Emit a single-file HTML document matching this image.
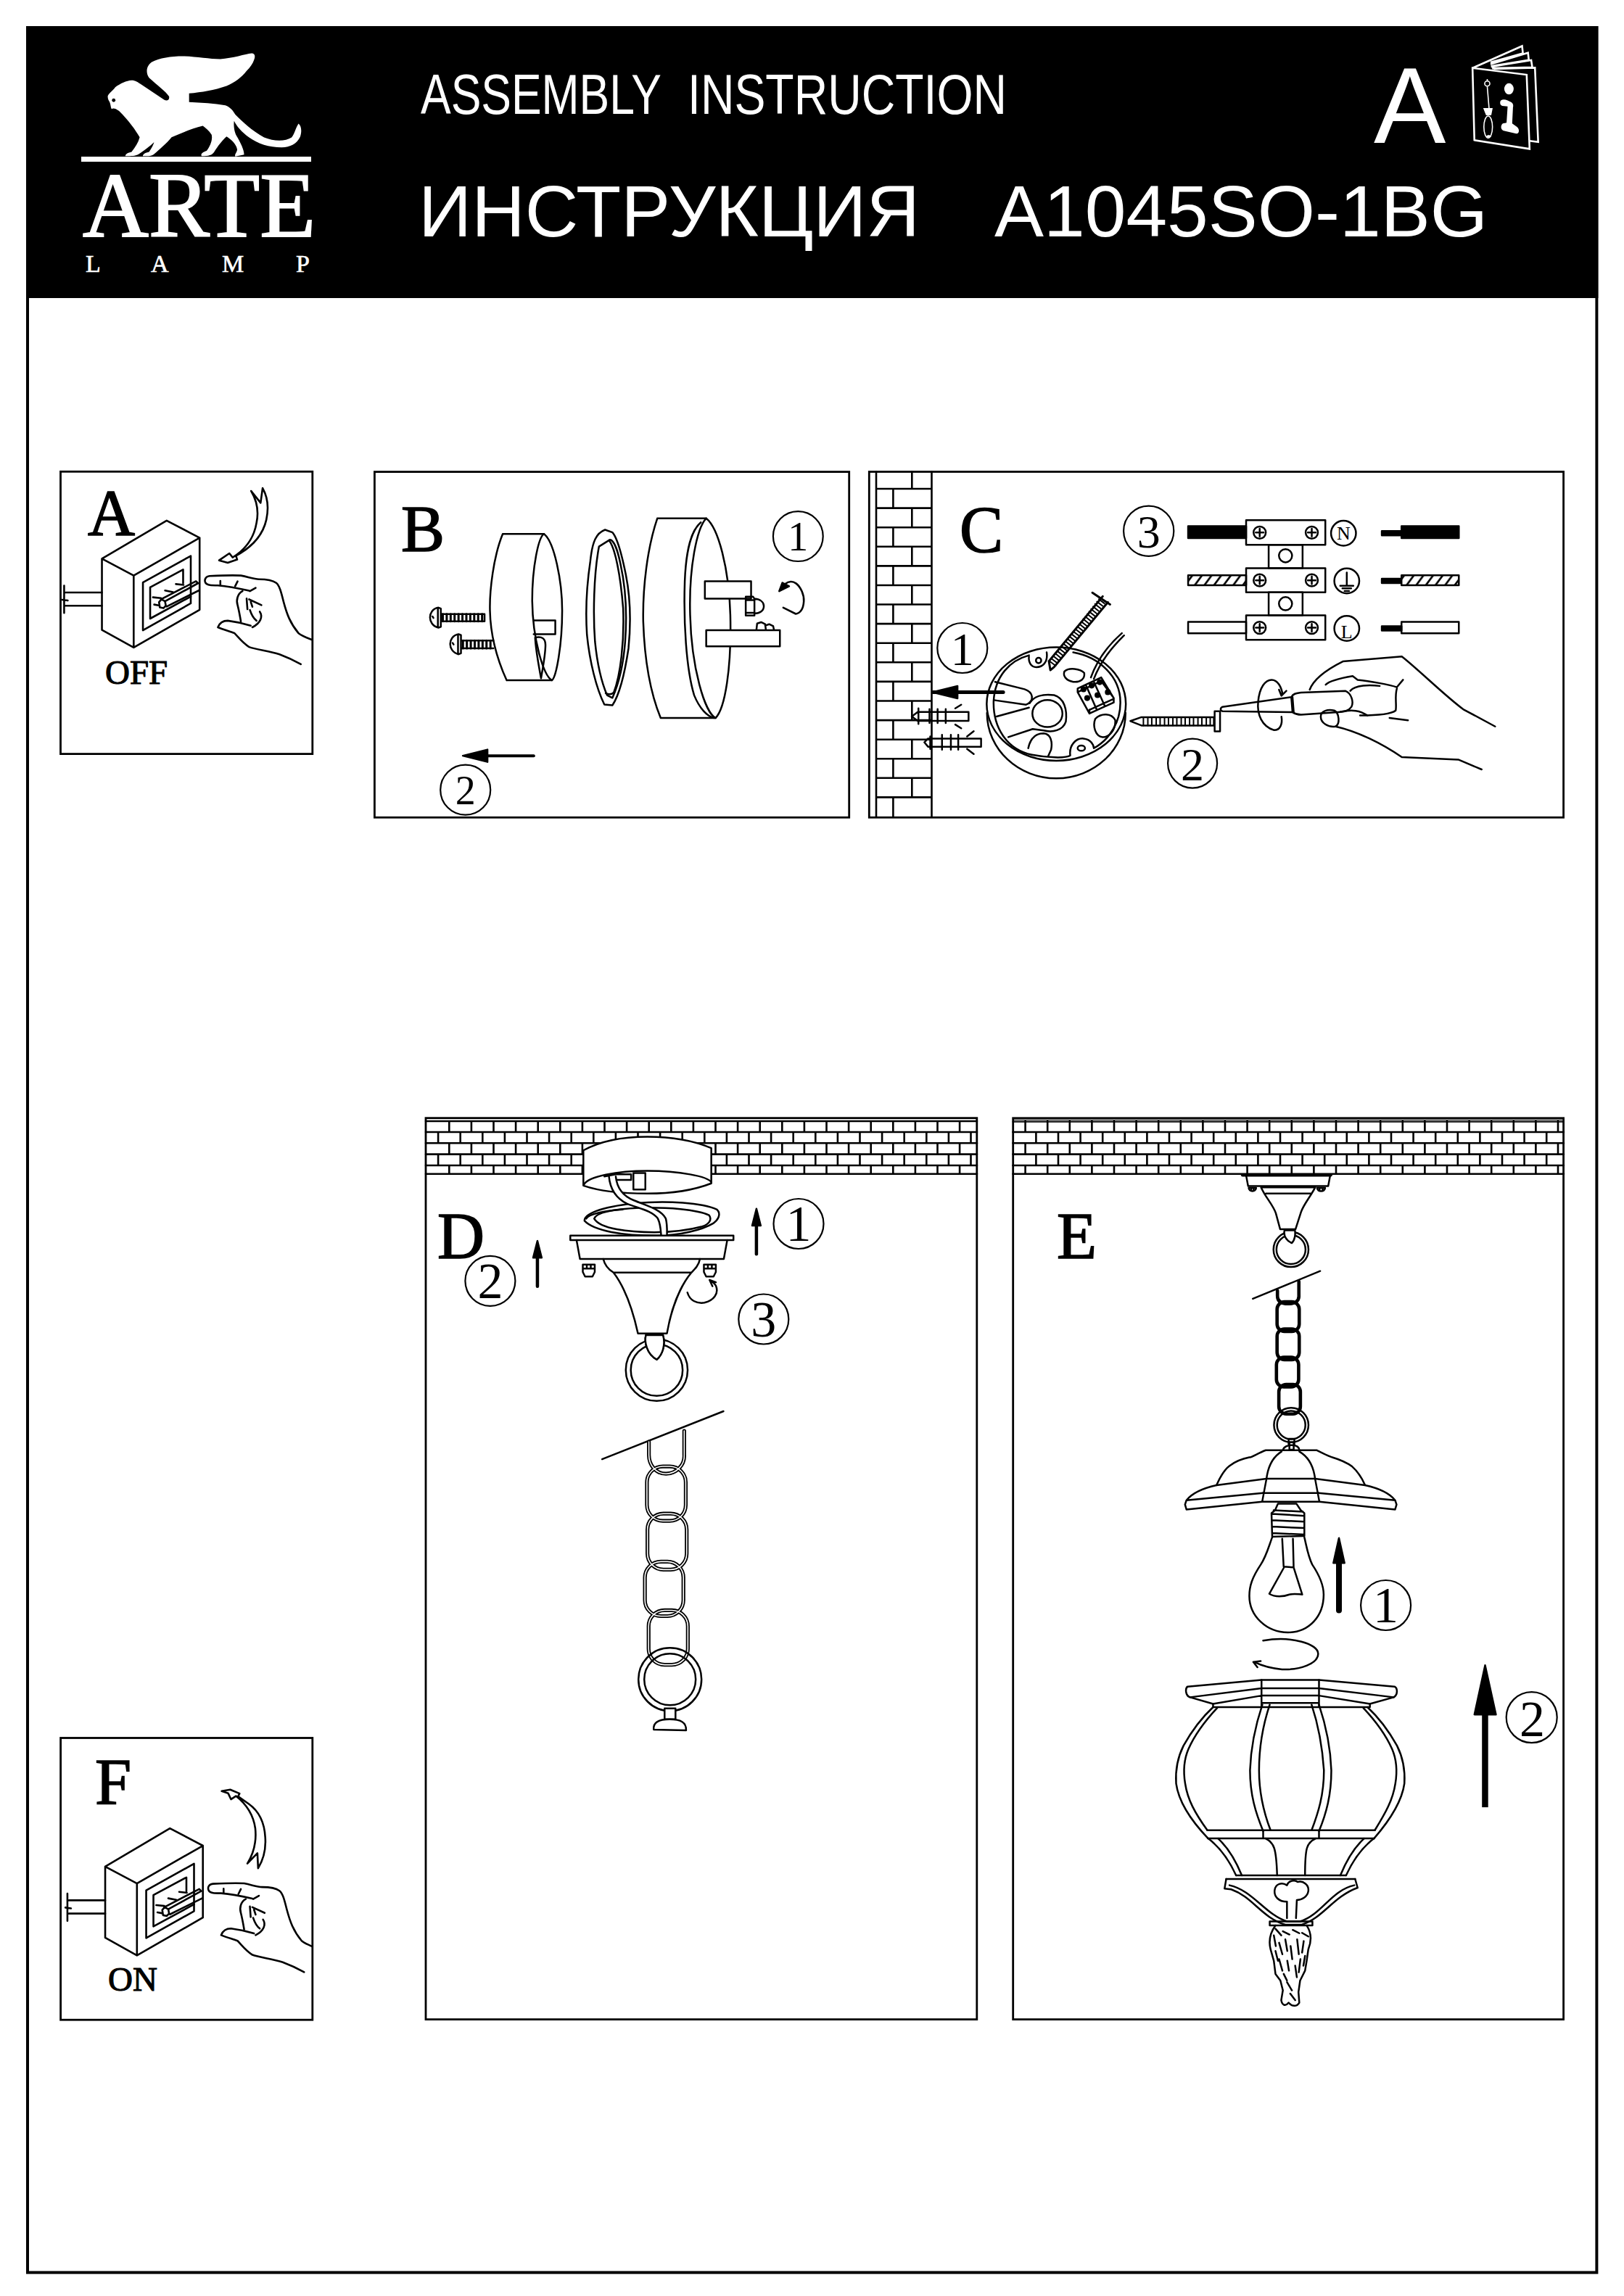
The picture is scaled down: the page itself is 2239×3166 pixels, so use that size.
<!DOCTYPE html>
<html><head><meta charset="utf-8">
<style>
html,body{margin:0;padding:0;background:#fff;}
body{width:2239px;height:3166px;overflow:hidden;position:relative;}
svg{position:absolute;left:0;top:0;}
.ns path,.ns line,.ns rect,.ns ellipse,.ns circle,.ns polyline,.ns polygon{vector-effect:non-scaling-stroke;}
.s{font-family:"Liberation Serif",serif;}
.a{font-family:"Liberation Sans",sans-serif;}
</style></head>
<body>
<svg width="2239" height="3166" viewBox="0 0 2239 3166">
<defs>
<clipPath id="clipF"><rect x="84" y="2397" width="346" height="387"/></clipPath>
<pattern id="hatch" width="44" height="46" patternUnits="userSpaceOnUse" patternTransform="translate(325,342)">
<rect width="44" height="46" fill="#fff"/><path d="M-14,46 L20,0 M30,46 L64,0" stroke="#000" stroke-width="9"/>
</pattern>
<pattern id="brickC" x="1208" y="674" width="77" height="53.18" patternUnits="userSpaceOnUse">
</pattern>
</defs>
<!-- page frame -->
<rect x="38" y="38" width="2163.4" height="3095.6" fill="none" stroke="#000" stroke-width="4"/>
<!-- header -->
<rect x="36" y="36" width="2167.4" height="375" fill="#000"/>

<g transform="translate(140,65) scale(0.17241)" fill="#fff">
 <path d="M50,390 C60,365 95,345 110,320 C150,290 200,268 240,265 C270,265 290,280 320,300 L500,420 C525,435 545,420 540,395 C520,360 440,300 380,245 C350,200 360,150 400,120 C460,85 560,72 650,72 C760,75 860,95 950,95 C1050,90 1150,55 1200,50 C1225,50 1232,70 1220,100 C1210,130 1190,160 1160,190 C1120,240 1070,280 1000,310 C900,345 800,360 700,370 L700,440 C800,445 900,450 990,465 C1030,480 1050,505 1070,540 C1120,590 1200,668 1300,722 C1380,755 1470,755 1520,722 C1545,692 1550,650 1575,612 C1600,628 1602,680 1588,718 C1562,772 1510,802 1440,802 C1340,802 1250,772 1180,722 C1120,678 1080,632 1060,590 C1055,620 1060,680 1080,710 C1110,760 1140,820 1140,860 L1070,875 C1060,860 1080,845 1085,820 C1080,780 1040,740 1000,715 C970,740 930,790 900,840 C880,865 860,872 800,872 C790,855 810,840 840,830 C870,790 890,740 880,700 C860,670 830,645 810,630 C720,650 640,690 560,720 C520,770 460,820 420,855 C405,870 380,872 330,872 C330,855 350,845 380,838 C400,810 415,780 420,760 C390,790 340,830 290,860 C270,870 240,872 190,872 C190,855 210,845 240,838 C270,800 295,760 305,720 C270,660 220,590 140,510 C110,490 95,485 80,495 C72,480 75,465 65,440 C55,425 48,405 50,390 Z"/>
 <circle cx="97" cy="425" r="14" fill="#000"/>
</g>
<g transform="translate(2015,55) scale(0.073893)" fill="none" stroke="#fff" stroke-width="2.6" stroke-linejoin="miter" class="ns">
 <path d="M205,525 L1215,650 L1270,2035 L240,1870 Z"/>
 <path d="M205,525 L1130,115 L1145,250 L540,420 M540,455 L1240,240 L1255,375 L550,490 M550,500 L1300,380 L1320,510 L570,530 M600,540 L1370,520 L1430,1905 L1270,1885"/>
 <path d="M430,1290 L560,1290 L540,1390 L470,1390 Z" fill="#fff"/>
 <path d="M480,870 L515,1290 M480,730 L480,765" stroke-width="1.6"/>
 <circle cx="480" cy="815" r="48" stroke-width="1.6"/>
 <ellipse cx="497" cy="1625" rx="80" ry="205" stroke-width="1.6"/>
 <path d="M460,1800 C480,1770 530,1770 555,1800 C540,1830 480,1830 460,1800 Z" fill="#fff" stroke="none"/>
</g>
<g transform="translate(2015,55) scale(0.073893)" fill="#fff">
 <ellipse cx="885" cy="915" rx="88" ry="105"/>
 <path d="M720,1170 C720,1110 790,1100 860,1130 L930,1165 C965,1190 970,1230 960,1260 L945,1560 L1030,1620 C1090,1660 1080,1760 1020,1750 L800,1700 C730,1690 720,1600 770,1560 L840,1545 L860,1240 L760,1230 C730,1220 720,1200 720,1170 Z"/>
</g>

<rect x="112" y="216" width="317" height="7" fill="#fff"/>
<text class="s" x="114" y="326" font-size="128" fill="#fff" stroke="#fff" stroke-width="2" textLength="321" lengthAdjust="spacingAndGlyphs">ARTE</text>
<text class="s" x="118" y="375" font-size="34" fill="#fff" stroke="#fff" stroke-width="0.6">L</text>
<text class="s" x="208" y="375" font-size="34" fill="#fff" stroke="#fff" stroke-width="0.6">A</text>
<text class="s" x="306" y="375" font-size="34" fill="#fff" stroke="#fff" stroke-width="0.6">M</text>
<text class="s" x="408" y="375" font-size="34" fill="#fff" stroke="#fff" stroke-width="0.6">P</text>
<text class="a" x="580" y="157" font-size="78" fill="#fff" textLength="332" lengthAdjust="spacingAndGlyphs">ASSEMBLY</text>
<text class="a" x="948" y="157" font-size="78" fill="#fff" textLength="440" lengthAdjust="spacingAndGlyphs">INSTRUCTION</text>
<text class="a" x="577" y="326" font-size="100" fill="#fff" textLength="691" lengthAdjust="spacingAndGlyphs">ИНСТРУКЦИЯ</text>
<text class="a" x="1371" y="326" font-size="100" fill="#fff" textLength="680" lengthAdjust="spacingAndGlyphs">A1045SO-1BG</text>
<text class="a" x="1894" y="197" font-size="149" fill="#fff">A</text>

<!-- panels -->
<g fill="none" stroke="#000" stroke-width="2.8">
<rect x="83.5" y="650.3" width="347.3" height="389.3"/>
<rect x="516.4" y="650.6" width="654.3" height="476.6"/>
<rect x="1198.3" y="650.5" width="957.3" height="476.7"/>
<rect x="587" y="1541.7" width="759.8" height="1242.9"/>
<rect x="1396.7" y="1541.8" width="758.9" height="1242.8"/>
<rect x="83.6" y="2396.5" width="347.2" height="388.7"/>
</g>
<g class="s" fill="#000" stroke="#000" stroke-width="1.6">
<text x="121" y="738" font-size="90">A</text>
<text x="553" y="760" font-size="90">B</text>
<text x="131" y="2488" font-size="90">F</text>
<text x="145" y="943" font-size="47" stroke-width="1.1">OFF</text>
<text x="149" y="2745" font-size="47" stroke-width="1.1">ON</text>
</g>
<g transform="translate(280,2450) scale(0.098522)" fill="none" stroke="#000" stroke-width="2.6" stroke-linejoin="round" class="ns">
<path d="M620,1215 L760,1070 L770,1280 C850,1150 880,1000 870,850 C860,650 780,480 640,380 L490,275 L510,235 L380,180 L260,200 L350,230 L390,315 L460,270 C600,380 700,520 730,720 C750,900 720,1050 620,1215 Z"/>
</g>

<g fill="none" stroke="#000" stroke-width="2.5" stroke-linejoin="round" stroke-linecap="round" class="ns">

<g id="swA" stroke-width="2.6">
 <g transform="translate(130,720) scale(0.11084)">
  <path d="M95,455 L900,-20 L1310,195 L490,665 Z M95,455 L95,1340 L490,1560 L490,665 M490,1560 L1310,1090 L1310,195"/>
  <path d="M605,750 L1200,420 L1200,1010 L605,1345 Z"/>
  <path d="M695,810 L1105,590 L1105,760 M1200,925 L695,1200 L695,810"/>
  <path d="M830,960 L1265,735 L1290,760 L880,985 M900,1050 L1300,850" />
  <path d="M805,995 L835,960 L880,985 L890,1040 L860,1070 L815,1060 Z"/>
  <path d="M1015,770 L1110,780 M880,850 L980,870 M730,935 L830,945 M745,1025 L800,1035" />
  <path d="M95,875 L-355,875 M95,1040 L-355,1040 M-375,790 L-375,1130 M-400,965 L-330,975"/>
 </g>
 <g transform="translate(280,660) scale(0.11324)">
  <path d="M560,1365 C450,1340 300,1310 180,1300 C100,1300 50,1300 30,1270 C10,1230 30,1190 80,1185 C200,1180 350,1175 460,1180 C560,1200 620,1225 680,1225 C780,1225 850,1240 890,1270 C930,1300 950,1380 980,1500 C1020,1650 1060,1760 1160,1880 C1210,1920 1270,1940 1320,1960"/>
  <path d="M210,1245 L210,1290 M420,1250 L390,1310 M640,1330 L570,1370"/>
  <path d="M480,1370 C420,1400 400,1480 420,1540 C440,1620 450,1680 460,1740 M530,1460 L540,1590 M560,1470 L710,1540 M580,1500 L600,1560 M570,1600 C590,1660 610,1700 650,1730 M690,1620 C730,1680 700,1760 600,1810"/>
  <path d="M580,1790 C480,1760 380,1740 300,1730 C230,1730 200,1760 180,1810 C250,1840 330,1860 380,1880 C430,1930 480,2000 560,2050 C640,2080 800,2100 930,2140 C1010,2170 1100,2210 1190,2260"/>
 </g>
</g>

<g transform="translate(280,660) scale(0.11324)" stroke-width="2.6">
 <path d="M585,150 L700,295 L725,115 C790,230 800,360 770,500 C730,680 620,820 400,940 L415,985 L300,1025 L195,995 L320,910 L360,960 C520,860 620,720 650,540 C680,400 650,260 585,150 Z"/>
</g>


<g transform="translate(580,720) scale(0.13546)">
 <path d="M835,120 L1255,120 M875,1610 L1335,1610 M835,120 C740,350 700,700 705,900 C710,1150 780,1400 875,1610"/>
 <path d="M1255,120 C1360,200 1440,600 1440,900 C1440,1250 1380,1580 1335,1610 C1250,1560 1140,1200 1135,800 C1135,450 1200,150 1255,120 Z"/>
 <path d="M1150,1000 L1370,1000 L1370,1140 L1150,1140"/>
 <path d="M1165,1175 C1230,1160 1270,1180 1270,1250 C1270,1350 1240,1500 1225,1590 C1200,1450 1170,1300 1165,1175"/>
 <path d="M180,870 C120,880 95,930 95,970 C95,1010 120,1060 180,1075 L205,1065 L205,880 Z M175,880 L175,1065 M205,935 L650,935 L650,1010 L205,1010 M120,960 L130,975"/>
 <path d="M225,935 L225,1010 M265,935 L265,1010 M305,935 L305,1010 M345,935 L345,1010 M385,935 L385,1010 M425,935 L425,1010 M465,935 L465,1010 M505,935 L505,1010 M545,935 L545,1010 M585,935 L585,1010 M625,935 L625,1010 " stroke-width="3"/>
 <path d="M385,1140 C325,1150 300,1200 300,1240 C300,1280 325,1330 385,1345 L410,1335 L410,1150 Z M380,1150 L380,1335 M410,1205 L740,1205 M410,1285 L740,1285 M325,1230 L335,1245"/>
 <path d="M430,1205 L430,1285 M470,1205 L470,1285 M510,1205 L510,1285 M550,1205 L550,1285 M590,1205 L590,1285 M630,1205 L630,1285 M670,1205 L670,1285 M710,1205 L710,1285 " stroke-width="3"/>
</g>
<g transform="translate(800,700) scale(0.18473)">
 <path d="M185,165 C120,190 90,250 75,400 C45,600 40,800 50,950 C70,1150 120,1350 180,1470 L240,1475 C290,1400 330,1250 360,1050 C380,850 370,650 340,500 C310,350 280,230 240,185 Z"/>
 <path d="M140,290 C100,500 95,800 110,1000 C130,1200 170,1330 200,1400 L240,1420 C280,1330 320,1200 335,1000 C350,800 340,600 300,420 C280,320 250,240 220,240 Z"/>
 <path d="M215,245 C260,300 300,500 320,750 C330,1000 300,1250 250,1380 C230,1400 210,1395 190,1385"/>
 <path d="M575,80 L940,80 M600,1570 L1010,1570 M575,80 C500,300 465,600 470,850 C480,1150 530,1400 600,1570"/>
 <path d="M940,80 C1030,150 1110,450 1120,800 C1130,1200 1080,1500 1010,1570 C930,1530 830,1200 820,800 C810,450 870,150 940,80"/>
 <path d="M900,110 C830,170 790,300 780,550 C770,850 790,1200 850,1400 C890,1500 950,1560 1000,1570"/>
 <path d="M930,550 L1275,550 L1275,680 L930,680 Z" fill="#fff"/>
 <path d="M940,915 L1490,915 L1490,1035 L940,1035 Z" fill="#fff"/>
 <path d="M1235,665 L1290,665 L1300,680 L1300,805 L1235,805 Z M1235,690 L1300,690 M1235,785 L1300,785 M1300,680 C1350,685 1370,710 1370,735 C1370,770 1340,790 1300,790"/>
 <path d="M1315,910 L1320,865 L1350,855 L1380,870 L1385,910 M1380,880 L1410,870 L1440,885 L1445,910"/>
</g>
<g transform="translate(1030,780) scale(0.061576)" stroke-width="2.6">
 <path d="M810,940 L1090,1080 C1200,1060 1260,950 1270,800 C1280,650 1200,480 1100,400 C1030,350 950,330 850,410"/>
 <path d="M720,570 L790,385 L940,460 Z" fill="#000"/>
</g>
<g transform="translate(500,630) scale(0.42488)">

 <path d="M555,970 L400,970" stroke-width="4"/>
 <path d="M325,970 L405,950 L405,990 Z" fill="#000"/>
</g>

<path d="M1208,674.0 L1284.5,674.0 M1208,700.6 L1284.5,700.6 M1208,727.2 L1284.5,727.2 M1208,753.8 L1284.5,753.8 M1208,780.4 L1284.5,780.4 M1208,807.0 L1284.5,807.0 M1208,833.5 L1284.5,833.5 M1208,860.1 L1284.5,860.1 M1208,886.7 L1284.5,886.7 M1208,913.3 L1284.5,913.3 M1208,939.9 L1284.5,939.9 M1208,966.5 L1284.5,966.5 M1208,993.1 L1284.5,993.1 M1208,1019.7 L1284.5,1019.7 M1208,1046.3 L1284.5,1046.3 M1208,1072.8 L1284.5,1072.8 M1208,1099.4 L1284.5,1099.4 M1257.3,650.5 L1257.3,674.0 M1231.4,674.0 L1231.4,700.6 M1257.3,700.6 L1257.3,727.2 M1231.4,727.2 L1231.4,753.8 M1257.3,753.8 L1257.3,780.4 M1231.4,780.4 L1231.4,807.0 M1257.3,807.0 L1257.3,833.5 M1231.4,833.5 L1231.4,860.1 M1257.3,860.1 L1257.3,886.7 M1231.4,886.7 L1231.4,913.3 M1257.3,913.3 L1257.3,939.9 M1231.4,939.9 L1231.4,966.5 M1257.3,966.5 L1257.3,993.1 M1231.4,993.1 L1231.4,1019.7 M1257.3,1019.7 L1257.3,1046.3 M1231.4,1046.3 L1231.4,1072.8 M1257.3,1072.8 L1257.3,1099.4 M1231.4,1099.4 L1231.4,1126.4 M1208,650.5 L1208,1126.4 M1284.5,650.5 L1284.5,1126.4" stroke-width="2.6"/>
<g transform="translate(1250,800) scale(0.20321)">
 <path d="M545,900 C545,1150 760,1345 1015,1345 C1270,1345 1485,1150 1485,900"/>
 <ellipse cx="1015" cy="840" rx="472" ry="385"/>
 <path d="M830,510 C700,545 600,650 590,820 C585,1000 680,1150 850,1185 C950,1205 1080,1210 1110,1190 C1100,1120 1150,1070 1200,1075 C1250,1080 1270,1120 1270,1140 C1380,1080 1450,960 1450,830 C1450,650 1300,520 1130,490 M950,490 C960,560 920,590 880,590 C840,590 825,550 830,520"/>
 <circle cx="895" cy="545" r="18"/><ellipse cx="1185" cy="1140" rx="25" ry="18"/>
 <ellipse cx="955" cy="905" rx="102" ry="92"/>
 <path d="M835,835 C860,790 920,770 1000,780 C1070,800 1090,880 1080,960 C1060,1020 990,1035 930,1020 L855,1010 L690,1065 M830,865 L610,925"/>
 <path d="M600,690 L800,740 C860,760 870,820 810,845 L600,815"/>
 <path d="M1070,620 C1100,590 1180,600 1205,630 C1210,670 1180,695 1130,690 C1080,680 1060,650 1070,620 Z"/>
 <path d="M1280,940 C1320,900 1390,900 1415,950 C1420,1010 1380,1065 1330,1065 C1280,1060 1260,990 1280,940 Z"/>
 <path d="M825,1140 C840,1070 880,1040 930,1040 C980,1045 990,1100 980,1150 L960,1195"/>
 <path d="M1160,735 L1320,660 L1405,800 L1405,830 L1240,905 L1160,760 Z M1160,760 L1320,685 L1405,800 M1240,880 L1405,805 M1240,880 L1240,905 M1215,710 L1290,880 M1270,690 L1345,855" fill="#fff"/>
 <g fill="#000"><circle cx="1200" cy="740" r="14"/><circle cx="1255" cy="715" r="14"/><circle cx="1310" cy="692" r="14"/><circle cx="1225" cy="800" r="14"/><circle cx="1295" cy="780" r="14"/><circle cx="1365" cy="760" r="14"/></g>
 <path d="M1460,360 C1380,430 1300,520 1250,660 M1475,375 C1400,450 1320,540 1270,670" />
 <path d="M1365,150 L1000,590 M1330,110 L965,550 M965,550 L975,610 L1000,590 M1260,85 L1380,165" stroke-width="3"/>
 <path d="M1304,129 L1342,158 M1291,146 L1329,175 M1278,162 L1316,192 M1265,179 L1302,209 M1251,196 L1289,226 M1238,213 L1276,243 M1225,230 L1263,260 M1212,247 L1249,277 M1198,264 L1236,294 M1185,281 L1223,311 M1172,298 L1210,328 M1159,315 L1196,344 M1145,332 L1183,361 M1132,349 L1170,378 M1119,366 L1156,395 M1105,382 L1143,412 M1092,399 L1130,429 M1079,416 L1117,446 M1066,433 L1103,463 M1052,450 L1090,480 M1039,467 L1077,497 M1026,484 L1064,514 M1013,501 L1050,531 M999,518 L1037,548 M986,535 L1024,564 M973,552 L1011,581 " stroke-width="2"/>
 <path d="M180,760 L655,760" stroke-width="5"/>
 <path d="M175,760 L345,718 L345,802 Z" fill="#000"/>
 <path d="M420,895 L75,895 L35,925 L75,955 L420,955 Z M80,870 L80,975 M155,875 L155,970 M210,875 L210,970 M265,875 L265,970 M330,870 L370,845 M330,980 L370,1005"/>
 <path d="M505,1075 L145,1075 L120,1100 L145,1130 L505,1130 Z M160,1060 L160,1145 M240,1050 L240,1150 M300,1050 L300,1150 M350,1050 L350,1150 M410,1060 L455,1025 M410,1145 L455,1180"/>
</g>
<g transform="translate(1540,690) scale(0.30172)">
 <rect x="325" y="118" width="265" height="54" fill="#000"/>
 <rect x="1300" y="118" width="262" height="54" fill="#000"/>
 <rect x="1210" y="140" width="90" height="20" fill="#000"/>
 <rect x="1210" y="358" width="90" height="20" fill="#000"/>
 <rect x="1210" y="575" width="90" height="20" fill="#000"/>
 <rect x="325" y="342" width="265" height="46" fill="url(#hatch)"/>
 <rect x="1300" y="342" width="262" height="46" fill="url(#hatch)"/>
 <rect x="325" y="555" width="265" height="52"/>
 <rect x="1300" y="555" width="262" height="52"/>
 <rect x="590" y="90" width="362" height="113"/>
 <rect x="693" y="203" width="155" height="107"/>
 <rect x="590" y="310" width="362" height="110"/>
 <rect x="693" y="420" width="155" height="105"/>
 <rect x="590" y="525" width="362" height="112"/>
 <circle cx="770" cy="253" r="30"/><circle cx="770" cy="472" r="30"/>
 <circle cx="652" cy="147" r="28"/><circle cx="890" cy="147" r="28"/>
 <circle cx="652" cy="365" r="28"/><circle cx="890" cy="365" r="28"/>
 <circle cx="652" cy="582" r="28"/><circle cx="890" cy="582" r="28"/>
 <path d="M634,147 L670,147 M652,129 L652,165 M872,147 L908,147 M890,129 L890,165 M634,365 L670,365 M652,347 L652,383 M872,365 L908,365 M890,347 L890,383 M634,582 L670,582 M652,564 L652,600 M872,582 L908,582 M890,564 L890,600" stroke-width="2.5"/>
 <circle cx="1035" cy="150" r="57"/><circle cx="1050" cy="368" r="57"/><circle cx="1050" cy="585" r="57"/>
 <path d="M1050,330 L1050,388 M1020,390 L1080,390 M1030,402 L1070,402 M1040,414 L1060,414" stroke-width="2.5"/>
</g>
<g transform="translate(1550,890) scale(0.33864)">
 <path d="M25,308 L70,292 L365,292 L365,326 L70,326 Z M368,268 L390,268 L390,350 L368,350 Z"/>
 <path d="M78,292 L78,326 M96,292 L96,326 M112,292 L112,326 M130,292 L130,326 M146,292 L146,326 M164,292 L164,326 M180,292 L180,326 M198,292 L198,326 M214,292 L214,326 M232,292 L232,326 M248,292 L248,326 M266,292 L266,326 M282,292 L282,326 M300,292 L300,326 M316,292 L316,326 M334,292 L334,326 M350,292 L350,326 " stroke-width="2"/>
 <path d="M680,210 L400,250 C390,255 390,265 400,268 L685,272 M680,210 C690,195 700,195 720,192 L900,185 C925,195 935,230 925,250 C915,265 900,270 870,272 L720,282 C700,282 690,275 685,272 Z M685,210 L690,272"/>
 <path d="M610,345 C560,330 540,280 545,230 C550,170 575,140 600,140 C625,140 640,170 645,200 M640,290 C645,320 635,345 610,345 M630,180 L640,205 L660,185"/>
 <path d="M755,180 C770,140 820,100 890,65 L1130,45 C1200,100 1300,200 1380,260 L1510,330"/>
 <path d="M820,160 C840,140 900,130 930,125 L950,140 C1000,145 1080,160 1110,170 L1135,140 M1110,175 C1100,210 1110,240 1105,265 C1080,285 1000,285 960,285 M920,185 C940,160 1000,160 1040,165"/>
 <path d="M860,330 C830,335 800,315 800,290 C800,265 830,260 855,265 C875,275 880,320 860,330 Z M880,270 C930,260 960,265 990,285"/>
 <path d="M860,330 C950,350 1050,400 1130,455 L1360,465 L1455,505 M1080,295 L1155,305"/>
</g>

<path d="M587,1546 L1347,1546 M587,1561 L1347,1561 M587,1576.3 L1347,1576.3 M587,1591.6 L1347,1591.6 M587,1607 L1347,1607 M619.3,1546 L619.3,1561 M649.9,1546 L649.9,1561 M680.5,1546 L680.5,1561 M711.1,1546 L711.1,1561 M741.7,1546 L741.7,1561 M772.3,1546 L772.3,1561 M802.9,1546 L802.9,1561 M833.5,1546 L833.5,1561 M864.1,1546 L864.1,1561 M894.7,1546 L894.7,1561 M925.3,1546 L925.3,1561 M955.9,1546 L955.9,1561 M986.5,1546 L986.5,1561 M1017.1,1546 L1017.1,1561 M1047.7,1546 L1047.7,1561 M1078.3,1546 L1078.3,1561 M1108.9,1546 L1108.9,1561 M1139.5,1546 L1139.5,1561 M1170.1,1546 L1170.1,1561 M1200.7,1546 L1200.7,1561 M1231.3,1546 L1231.3,1561 M1261.9,1546 L1261.9,1561 M1292.5,1546 L1292.5,1561 M1323.1,1546 L1323.1,1561 M604.1,1561 L604.1,1576.3 M634.7,1561 L634.7,1576.3 M665.3,1561 L665.3,1576.3 M695.9,1561 L695.9,1576.3 M726.5,1561 L726.5,1576.3 M757.1,1561 L757.1,1576.3 M787.7,1561 L787.7,1576.3 M818.3,1561 L818.3,1576.3 M848.9,1561 L848.9,1576.3 M879.5,1561 L879.5,1576.3 M910.1,1561 L910.1,1576.3 M940.7,1561 L940.7,1576.3 M971.3,1561 L971.3,1576.3 M1001.9,1561 L1001.9,1576.3 M1032.5,1561 L1032.5,1576.3 M1063.1,1561 L1063.1,1576.3 M1093.7,1561 L1093.7,1576.3 M1124.3,1561 L1124.3,1576.3 M1154.9,1561 L1154.9,1576.3 M1185.5,1561 L1185.5,1576.3 M1216.1,1561 L1216.1,1576.3 M1246.7,1561 L1246.7,1576.3 M1277.3,1561 L1277.3,1576.3 M1307.9,1561 L1307.9,1576.3 M1338.5,1561 L1338.5,1576.3 M619.3,1576.3 L619.3,1591.6 M649.9,1576.3 L649.9,1591.6 M680.5,1576.3 L680.5,1591.6 M711.1,1576.3 L711.1,1591.6 M741.7,1576.3 L741.7,1591.6 M772.3,1576.3 L772.3,1591.6 M802.9,1576.3 L802.9,1591.6 M833.5,1576.3 L833.5,1591.6 M864.1,1576.3 L864.1,1591.6 M894.7,1576.3 L894.7,1591.6 M925.3,1576.3 L925.3,1591.6 M955.9,1576.3 L955.9,1591.6 M986.5,1576.3 L986.5,1591.6 M1017.1,1576.3 L1017.1,1591.6 M1047.7,1576.3 L1047.7,1591.6 M1078.3,1576.3 L1078.3,1591.6 M1108.9,1576.3 L1108.9,1591.6 M1139.5,1576.3 L1139.5,1591.6 M1170.1,1576.3 L1170.1,1591.6 M1200.7,1576.3 L1200.7,1591.6 M1231.3,1576.3 L1231.3,1591.6 M1261.9,1576.3 L1261.9,1591.6 M1292.5,1576.3 L1292.5,1591.6 M1323.1,1576.3 L1323.1,1591.6 M604.1,1591.6 L604.1,1607 M634.7,1591.6 L634.7,1607 M665.3,1591.6 L665.3,1607 M695.9,1591.6 L695.9,1607 M726.5,1591.6 L726.5,1607 M757.1,1591.6 L757.1,1607 M787.7,1591.6 L787.7,1607 M818.3,1591.6 L818.3,1607 M848.9,1591.6 L848.9,1607 M879.5,1591.6 L879.5,1607 M910.1,1591.6 L910.1,1607 M940.7,1591.6 L940.7,1607 M971.3,1591.6 L971.3,1607 M1001.9,1591.6 L1001.9,1607 M1032.5,1591.6 L1032.5,1607 M1063.1,1591.6 L1063.1,1607 M1093.7,1591.6 L1093.7,1607 M1124.3,1591.6 L1124.3,1607 M1154.9,1591.6 L1154.9,1607 M1185.5,1591.6 L1185.5,1607 M1216.1,1591.6 L1216.1,1607 M1246.7,1591.6 L1246.7,1607 M1277.3,1591.6 L1277.3,1607 M1307.9,1591.6 L1307.9,1607 M1338.5,1591.6 L1338.5,1607 M619.3,1607 L619.3,1618.8 M649.9,1607 L649.9,1618.8 M680.5,1607 L680.5,1618.8 M711.1,1607 L711.1,1618.8 M741.7,1607 L741.7,1618.8 M772.3,1607 L772.3,1618.8 M802.9,1607 L802.9,1618.8 M833.5,1607 L833.5,1618.8 M864.1,1607 L864.1,1618.8 M894.7,1607 L894.7,1618.8 M925.3,1607 L925.3,1618.8 M955.9,1607 L955.9,1618.8 M986.5,1607 L986.5,1618.8 M1017.1,1607 L1017.1,1618.8 M1047.7,1607 L1047.7,1618.8 M1078.3,1607 L1078.3,1618.8 M1108.9,1607 L1108.9,1618.8 M1139.5,1607 L1139.5,1618.8 M1170.1,1607 L1170.1,1618.8 M1200.7,1607 L1200.7,1618.8 M1231.3,1607 L1231.3,1618.8 M1261.9,1607 L1261.9,1618.8 M1292.5,1607 L1292.5,1618.8 M1323.1,1607 L1323.1,1618.8 M587,1618.8 L1347,1618.8" stroke-width="2.6"/>
<g transform="translate(780,1580) scale(0.15676)">
 <path d="M155,350 L155,40 C300,-40 500,-80 718,-80 C940,-80 1140,-40 1280,20 L1280,330 C1100,400 900,420 718,420 C500,420 300,400 155,350 Z" fill="#fff"/>
 <path d="M160,340 C200,270 450,220 718,220 C1000,220 1250,270 1280,320"/>
 <path d="M595,240 L700,240 L700,385 L595,385 Z"/>
 <path d="M340,270 L440,250 L575,250 L575,300 L440,300"/>
 <path d="M165,660 C160,600 300,540 600,505 C900,480 1200,500 1330,560 C1370,600 1340,650 1300,680 C1200,740 1000,790 800,790 C500,790 250,750 165,660 Z"/>
 <path d="M250,640 C270,580 450,555 650,545 C900,540 1150,560 1260,610 C1290,650 1260,690 1200,710 C1050,750 900,760 780,760 C550,760 300,730 250,640 Z"/>
 <path d="M180,640 C200,600 350,570 500,560"/>
 <path d="M380,270 C390,380 440,460 540,510 C640,550 760,570 810,640 C835,690 835,740 840,800 L890,800 C890,750 895,700 880,640 C840,560 720,530 600,480 C500,440 450,370 440,270" fill="#fff"/>
 <path d="M40,790 L1475,790 L1475,830 L40,830 Z" fill="#fff"/>
 <path d="M95,830 L125,995 L1390,995 L1420,830"/>
 <path d="M330,995 C345,1060 380,1090 420,1115 L1105,1115 C1140,1080 1170,1050 1180,995 M420,1115 C500,1220 580,1400 635,1650 L890,1650 C930,1420 1010,1230 1105,1115"/>
 <path d="M150,1045 L255,1045 L255,1110 L235,1150 L170,1150 L150,1110 Z M150,1080 L255,1080 M185,1045 L185,1080 M220,1045 L220,1080"/>
 <path d="M1215,1045 L1320,1045 L1320,1110 L1300,1150 L1235,1150 L1215,1110 Z M1215,1080 L1320,1080 M1250,1045 L1250,1080 M1285,1045 L1285,1080"/>
 <path d="M1070,1290 C1090,1360 1150,1390 1220,1380 C1300,1360 1350,1300 1320,1230 C1310,1210 1290,1195 1270,1185 M1265,1180 L1290,1235 M1265,1180 L1320,1200" stroke-width="2.5"/>
 <path d="M705,1665 C690,1720 710,1830 800,1880 C850,1840 880,1750 855,1665"/>
 <circle cx="800" cy="1972" r="272"/><circle cx="800" cy="1972" r="228"/>
 <path d="M705,1665 C690,1720 710,1830 800,1880 C850,1840 880,1750 855,1665 Z" fill="#fff"/>
</g>
<g transform="translate(570,1520) scale(0.49261)">
 <path d="M960,425 L960,320" stroke-width="4.5"/><path d="M960,298 L948,345 L972,345 Z" fill="#000"/>
 <path d="M347,515 L347,410" stroke-width="4.5"/><path d="M347,388 L335,435 L359,435 Z" fill="#000"/>
</g>
<g transform="translate(780,1940) scale(0.2004)">
 <path d="M250,360 L1085,30"/>
 <g stroke-width="5.2">
 <path d="M572,240 L572,330 C572,400 620,460 690,460 C760,460 820,400 815,330 L815,165" />
 <rect x="558.5" y="409.5" width="267" height="375" rx="110"/>
 <rect x="562.0" y="734.5" width="270" height="385" rx="110"/>
 <rect x="544.5" y="1064.5" width="265" height="375" rx="110"/>
 <rect x="570.0" y="1399.5" width="270" height="375" rx="110"/>
 </g>
 <g stroke="#fff" stroke-width="1.6">
 <path d="M572,240 L572,330 C572,400 620,460 690,460 C760,460 820,400 815,330 L815,165" />
 <rect x="558.5" y="409.5" width="267" height="375" rx="110"/>
 <rect x="562.0" y="734.5" width="270" height="385" rx="110"/>
 <rect x="544.5" y="1064.5" width="265" height="375" rx="110"/>
 <rect x="570.0" y="1399.5" width="270" height="375" rx="110"/>
 </g>
 <circle cx="717" cy="1875" r="217" fill="none"/><circle cx="717" cy="1875" r="177" fill="none"/>
 <path d="M680,2075 L755,2075 L755,2150 L680,2150 Z" fill="#fff"/>
 <path d="M605,2220 C600,2170 640,2150 715,2150 C790,2150 830,2170 828,2225 Z" fill="#fff"/>
</g>

<path d="M1396.5,1561 L2156,1561 M1396.5,1576.3 L2156,1576.3 M1396.5,1591.6 L2156,1591.6 M1396.5,1607 L2156,1607 M1413.6,1546 L1413.6,1561 M1444.2,1546 L1444.2,1561 M1474.8,1546 L1474.8,1561 M1505.4,1546 L1505.4,1561 M1536.0,1546 L1536.0,1561 M1566.6,1546 L1566.6,1561 M1597.2,1546 L1597.2,1561 M1627.8,1546 L1627.8,1561 M1658.4,1546 L1658.4,1561 M1689.0,1546 L1689.0,1561 M1719.6,1546 L1719.6,1561 M1750.2,1546 L1750.2,1561 M1780.8,1546 L1780.8,1561 M1811.4,1546 L1811.4,1561 M1842.0,1546 L1842.0,1561 M1872.6,1546 L1872.6,1561 M1903.2,1546 L1903.2,1561 M1933.8,1546 L1933.8,1561 M1964.4,1546 L1964.4,1561 M1995.0,1546 L1995.0,1561 M2025.6,1546 L2025.6,1561 M2056.2,1546 L2056.2,1561 M2086.8,1546 L2086.8,1561 M2117.4,1546 L2117.4,1561 M2148.0,1546 L2148.0,1561 M1428.4,1561 L1428.4,1576.3 M1459.0,1561 L1459.0,1576.3 M1489.6,1561 L1489.6,1576.3 M1520.2,1561 L1520.2,1576.3 M1550.8,1561 L1550.8,1576.3 M1581.4,1561 L1581.4,1576.3 M1612.0,1561 L1612.0,1576.3 M1642.6,1561 L1642.6,1576.3 M1673.2,1561 L1673.2,1576.3 M1703.8,1561 L1703.8,1576.3 M1734.4,1561 L1734.4,1576.3 M1765.0,1561 L1765.0,1576.3 M1795.6,1561 L1795.6,1576.3 M1826.2,1561 L1826.2,1576.3 M1856.8,1561 L1856.8,1576.3 M1887.4,1561 L1887.4,1576.3 M1918.0,1561 L1918.0,1576.3 M1948.6,1561 L1948.6,1576.3 M1979.2,1561 L1979.2,1576.3 M2009.8,1561 L2009.8,1576.3 M2040.4,1561 L2040.4,1576.3 M2071.0,1561 L2071.0,1576.3 M2101.6,1561 L2101.6,1576.3 M2132.2,1561 L2132.2,1576.3 M1413.6,1576.3 L1413.6,1591.6 M1444.2,1576.3 L1444.2,1591.6 M1474.8,1576.3 L1474.8,1591.6 M1505.4,1576.3 L1505.4,1591.6 M1536.0,1576.3 L1536.0,1591.6 M1566.6,1576.3 L1566.6,1591.6 M1597.2,1576.3 L1597.2,1591.6 M1627.8,1576.3 L1627.8,1591.6 M1658.4,1576.3 L1658.4,1591.6 M1689.0,1576.3 L1689.0,1591.6 M1719.6,1576.3 L1719.6,1591.6 M1750.2,1576.3 L1750.2,1591.6 M1780.8,1576.3 L1780.8,1591.6 M1811.4,1576.3 L1811.4,1591.6 M1842.0,1576.3 L1842.0,1591.6 M1872.6,1576.3 L1872.6,1591.6 M1903.2,1576.3 L1903.2,1591.6 M1933.8,1576.3 L1933.8,1591.6 M1964.4,1576.3 L1964.4,1591.6 M1995.0,1576.3 L1995.0,1591.6 M2025.6,1576.3 L2025.6,1591.6 M2056.2,1576.3 L2056.2,1591.6 M2086.8,1576.3 L2086.8,1591.6 M2117.4,1576.3 L2117.4,1591.6 M2148.0,1576.3 L2148.0,1591.6 M1428.4,1591.6 L1428.4,1607 M1459.0,1591.6 L1459.0,1607 M1489.6,1591.6 L1489.6,1607 M1520.2,1591.6 L1520.2,1607 M1550.8,1591.6 L1550.8,1607 M1581.4,1591.6 L1581.4,1607 M1612.0,1591.6 L1612.0,1607 M1642.6,1591.6 L1642.6,1607 M1673.2,1591.6 L1673.2,1607 M1703.8,1591.6 L1703.8,1607 M1734.4,1591.6 L1734.4,1607 M1765.0,1591.6 L1765.0,1607 M1795.6,1591.6 L1795.6,1607 M1826.2,1591.6 L1826.2,1607 M1856.8,1591.6 L1856.8,1607 M1887.4,1591.6 L1887.4,1607 M1918.0,1591.6 L1918.0,1607 M1948.6,1591.6 L1948.6,1607 M1979.2,1591.6 L1979.2,1607 M2009.8,1591.6 L2009.8,1607 M2040.4,1591.6 L2040.4,1607 M2071.0,1591.6 L2071.0,1607 M2101.6,1591.6 L2101.6,1607 M2132.2,1591.6 L2132.2,1607 M1413.6,1607 L1413.6,1618.8 M1444.2,1607 L1444.2,1618.8 M1474.8,1607 L1474.8,1618.8 M1505.4,1607 L1505.4,1618.8 M1536.0,1607 L1536.0,1618.8 M1566.6,1607 L1566.6,1618.8 M1597.2,1607 L1597.2,1618.8 M1627.8,1607 L1627.8,1618.8 M1658.4,1607 L1658.4,1618.8 M1689.0,1607 L1689.0,1618.8 M1719.6,1607 L1719.6,1618.8 M1750.2,1607 L1750.2,1618.8 M1780.8,1607 L1780.8,1618.8 M1811.4,1607 L1811.4,1618.8 M1842.0,1607 L1842.0,1618.8 M1872.6,1607 L1872.6,1618.8 M1903.2,1607 L1903.2,1618.8 M1933.8,1607 L1933.8,1618.8 M1964.4,1607 L1964.4,1618.8 M1995.0,1607 L1995.0,1618.8 M2025.6,1607 L2025.6,1618.8 M2056.2,1607 L2056.2,1618.8 M2086.8,1607 L2086.8,1618.8 M2117.4,1607 L2117.4,1618.8 M2148.0,1607 L2148.0,1618.8 M1396.5,1618.8 L2156,1618.8" stroke-width="2.6"/><path d="M1396.5,1546.7 L2156,1546.7" stroke-width="1.9"/><path d="M1398,1544.4 L2154,1544.4" stroke-width="1.0" stroke-linecap="butt"/>
<g transform="translate(1680,1610) scale(0.16985)">
 <path d="M195,60 L910,60" stroke-width="4.5"/>
 <path d="M225,70 L240,150 L890,150 L905,70"/>
 <path d="M245,165 C245,200 305,200 305,165 Z M800,165 C800,200 865,200 865,165 Z M265,165 L265,185 M285,165 L285,185 M820,165 L820,185 M845,165 L845,185"/>
 <path d="M345,160 C380,240 440,300 465,370 L500,500 L625,500 L670,360 C690,300 750,230 785,160 Z M385,210 L755,210"/>
 <circle cx="588" cy="665" r="142"/><circle cx="588" cy="665" r="118"/>
 <path d="M535,510 C525,560 560,600 595,612 C620,590 625,540 620,510 Z" fill="#fff"/>
 <path d="M278,1065 L825,840"/>
 <g stroke-width="4.6">
 <path d="M478,1000 L478,1040 C478,1085 510,1105 565,1105 C620,1105 655,1085 652,1040 L652,925"/>
 <rect x="475.0" y="1090" width="180" height="240" rx="60"/>
 <rect x="475.0" y="1310" width="180" height="250" rx="60"/>
 <rect x="470.0" y="1540" width="180" height="240" rx="60"/>
 <rect x="489.5" y="1760" width="175" height="240" rx="60"/>
 </g>
 <circle cx="590" cy="2090" r="140"/><circle cx="590" cy="2090" r="115"/>
 <path d="M575,2230 L610,2230 L610,2290 L575,2290 Z" fill="#fff"/>
</g>
<g transform="translate(1620,1980) scale(0.19704)">
 <path d="M795,20 L835,20 L835,65 L795,65 Z M755,100 C760,75 790,65 815,65 C845,65 868,75 870,100"/>
 <path d="M635,100 L990,100 M635,100 C580,120 540,150 520,150 C470,160 420,180 380,210 C340,240 310,300 290,345 M990,100 C1050,130 1090,150 1100,150 C1150,165 1200,185 1240,215 C1280,250 1310,300 1330,345"/>
 <path d="M745,110 C680,150 650,220 640,300 L610,460 M870,110 C940,150 970,220 980,300 L1010,460"/>
 <path d="M640,300 L980,300 M615,400 L1005,400 M610,460 L1010,460"/>
 <path d="M640,300 L290,345 C200,365 120,400 80,450 L70,480 L80,515 L610,460 M615,400 L80,450"/>
 <path d="M980,300 L1330,345 C1420,365 1500,400 1540,450 L1550,480 L1540,515 L1010,460 M1005,400 L1540,450"/>
 <path d="M720,475 L850,475 L880,520 L905,540 L905,700 L680,705 L675,540 L700,520 Z M680,545 L905,560 M680,590 L905,600 M680,635 L905,645 M680,680 L905,690 M690,520 L895,530"/>
 <path d="M680,710 C660,760 640,840 600,900 C540,990 520,1050 520,1120 C520,1260 640,1375 790,1375 C940,1375 1040,1260 1040,1110 C1040,1030 1000,960 960,900 C930,840 920,770 905,710"/>
 <path d="M750,720 L760,915 L830,920 L825,720 M760,925 L660,1105 C700,1130 760,1125 800,1110 C840,1100 870,1110 890,1110 L830,920"/>
 <path d="M1147,1220 L1147,880" stroke-width="8"/>
 <path d="M1147,715 L1108,890 L1186,890 Z" fill="#000"/>
</g>
<g transform="translate(1600,2260) scale(0.22642)">
 <path d="M625,10 C800,-20 960,30 960,90 C960,150 850,190 740,185 C680,180 620,165 570,140 M565,140 L610,135 M565,140 L590,172"/>
 <path d="M615,250 L965,250 L1425,290 C1445,300 1445,340 1420,355 L1275,395 L1275,415 L320,415 L320,395 L180,355 C150,345 150,300 165,290 Z"/>
 <path d="M615,250 L615,415 M965,250 L965,415 M615,300 L965,300 M615,345 L965,345 M615,390 L965,390 M615,300 L180,355 M965,300 L1420,355 M615,345 L320,395 M965,345 L1275,395"/>
 <path d="M320,415 C250,480 190,560 140,650 C100,730 90,800 95,880 C110,990 180,1100 290,1215 M345,420 C270,500 210,580 170,670 C140,740 140,820 150,880 C165,980 210,1060 285,1165"/>
 <path d="M1260,415 C1330,480 1390,560 1440,650 C1480,730 1490,800 1485,880 C1470,990 1400,1100 1300,1215 M1235,420 C1310,500 1370,580 1410,670 C1440,740 1440,820 1430,880 C1415,980 1370,1060 1305,1165"/>
 <path d="M620,400 C580,520 550,650 545,800 C545,950 580,1060 625,1170 M665,400 C625,520 600,650 600,800 C600,950 630,1060 670,1165"/>
 <path d="M965,400 C1005,520 1035,650 1040,800 C1040,950 1010,1060 965,1170 M920,400 C960,520 985,650 995,800 C995,950 960,1060 920,1165"/>
 <path d="M285,1165 L1305,1165 M290,1215 L1300,1215 M625,1165 L625,1215 M965,1165 L965,1215"/>
 <path d="M290,1215 C350,1260 410,1330 460,1440 M350,1215 C400,1260 450,1330 495,1440 M1300,1215 C1240,1260 1180,1330 1130,1440 M1240,1215 C1190,1260 1140,1330 1095,1440"/>
 <path d="M640,1215 C690,1240 705,1270 710,1440 M945,1215 C890,1240 880,1270 880,1440"/>
 <path d="M460,1440 L1130,1440 M400,1462 L1185,1462"/>
 <path d="M400,1462 L390,1520 L430,1525 C560,1570 620,1700 760,1740 L860,1740 C990,1700 1050,1570 1200,1515 L1185,1462 M420,1500 C560,1530 640,1680 770,1720 L850,1720 C980,1680 1040,1530 1180,1500"/>
 <path d="M770,1700 L770,1600 C720,1600 690,1570 695,1530 C700,1490 740,1480 770,1500 C780,1470 820,1465 835,1480 C870,1470 905,1500 900,1535 C895,1570 860,1590 830,1590 L825,1700"/>
 <path d="M665,1720 L925,1720 L925,1745 L665,1745 Z"/>
 <path d="M700,1745 C660,1800 660,1850 670,1890 L690,1960 L700,2040 L730,2080 L745,2140 L735,2200 C740,2230 760,2240 780,2215 C800,2240 830,2240 845,2215 L840,2150 L850,2080 L880,2020 L890,1960 L900,1890 C920,1840 920,1790 890,1745"/>
 <path d="M700,1765 L735,1805 M745,1780 L785,1800 M805,1772 L845,1792 M862,1790 L900,1812 M690,1805 L702,1870 M722,1850 L742,1920 M760,1830 L772,1900 M792,1870 L802,1950 M832,1830 L842,1920 M872,1840 L862,1910 M722,1950 L742,2020 M772,1960 L782,2020 M852,1950 L842,2030 M770,2090 L800,2140 M790,2160 L820,2200 M700,1900 L715,1960 M820,1990 L830,2060 M880,1930 L870,1990 M750,2040 L770,2080"/>
</g>
<g transform="translate(1990,2260) scale(0.11321)">
 <path d="M508,320 L378,920 L640,920 Z" fill="#000"/>
 <rect x="470" y="900" width="75" height="1150" fill="#000" stroke="none"/>
</g>
<g clip-path="url(#clipF)"><use href="#swA" transform="translate(4.5,1803.4)"/></g>
</g>

<g fill="none" stroke="#000" stroke-width="2.2">
<circle cx="1100.3" cy="739.6" r="34.4"/>
<circle cx="641.7" cy="1089.2" r="34.5"/>
</g>
<g class="s" fill="#000" font-size="56" text-anchor="middle">
<text x="1100.3" y="759">1</text>
<text x="641.7" y="1109">2</text>
</g>

<g fill="none" stroke="#000" stroke-width="2.2">
<circle cx="1583.7" cy="732.2" r="34.6"/>
<circle cx="1326.8" cy="893.5" r="34.5"/>
<circle cx="1644.1" cy="1052.6" r="34"/>
</g>
<g class="s" fill="#000" font-size="64" text-anchor="middle">
<text x="1583.7" y="755">3</text>
<text x="1326.8" y="917">1</text>
<text x="1644.1" y="1076">2</text>
</g>
<g class="s" fill="#000" font-size="26" text-anchor="middle">
<text x="1852.3" y="744">N</text>
<text x="1856.8" y="880">L</text>
</g>
<text class="s" x="1323" y="761" font-size="90" fill="#000" stroke="#000" stroke-width="1.6">C</text>

<g fill="none" stroke="#000" stroke-width="2.2">
<circle cx="1101" cy="1687.5" r="34.5"/>
<circle cx="675.9" cy="1766.3" r="34.5"/>
<circle cx="1052.8" cy="1819" r="34.5"/>
</g>
<g class="s" fill="#000" font-size="70" text-anchor="middle">
<text x="1101" y="1711">1</text>
<text x="675.9" y="1790">2</text>
<text x="1052.8" y="1843">3</text>
</g>
<text class="s" x="603" y="1735" font-size="90" fill="#000" stroke="#000" stroke-width="1.6">D</text>

<g fill="none" stroke="#000" stroke-width="2.2">
<circle cx="1910.6" cy="2213.5" r="34.5"/>
<circle cx="2111.7" cy="2368.1" r="35"/>
</g>
<g class="s" fill="#000" font-size="70" text-anchor="middle">
<text x="1910.6" y="2237">1</text>
<text x="2112.5" y="2394">2</text>
</g>
<text class="s" x="1457" y="1735" font-size="90" fill="#000" stroke="#000" stroke-width="1.6">E</text>
<!--DRAWINGS-->
</svg>
</body></html>
